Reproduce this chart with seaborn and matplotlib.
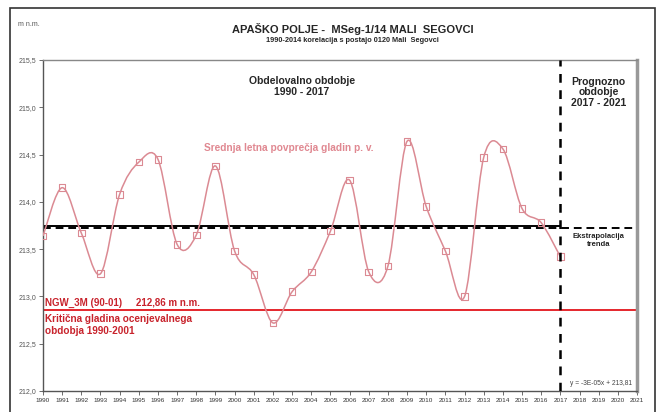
import numpy as np
import pandas as pd
import matplotlib.pyplot as plt
import seaborn as sns
from matplotlib.path import Path
from matplotlib.patches import PathPatch, Rectangle

# data
years = list(range(1990, 2018))
levels = [213.64, 214.15, 213.67, 213.24, 214.08, 214.42, 214.45, 213.55,
          213.65, 214.38, 213.48, 213.23, 212.72, 213.05, 213.26, 213.69,
          214.23, 213.26, 213.32, 214.64, 213.95, 213.48, 213.00, 214.47,
          214.56, 213.93, 213.78, 213.42]
trend_level = 213.745
trend_extrap = 213.728
critical_level = 212.86
split_year = 2017
x_ticks = list(range(1990, 2022))
y_ticks = [212.0, 212.5, 213.0, 213.5, 214.0, 214.5, 215.0, 215.5]

df = pd.DataFrame({"leto": years, "gladina": levels})

sns.set_style("white")
plt.rcParams['font.family'] = ['Liberation Sans', 'DejaVu Sans']

PINK = "#db8a93"
RED = "#e5262c"
DARKRED = "#c8232c"

fig = plt.figure(figsize=(6.59, 4.12), dpi=100)
ax = fig.add_axes([43/659, 1-391/412, (637-43)/659, (391-60)/412])

# smooth (excel-like) curve as bezier path through the points
x = np.array(years, dtype=float)
y = np.array(levels)
verts = [(x[0], y[0])]
codes = [Path.MOVETO]
n = len(x)
for i in range(n-1):
    p0 = np.array([x[max(i-1, 0)], y[max(i-1, 0)]])
    p1 = np.array([x[i], y[i]])
    p2 = np.array([x[i+1], y[i+1]])
    p3 = np.array([x[min(i+2, n-1)], y[min(i+2, n-1)]])
    c1 = p1 + (p2 - p0) / 6
    c2 = p2 - (p3 - p1) / 6
    verts += [tuple(c1), tuple(c2), tuple(p2)]
    codes += [Path.CURVE4]*3
ax.add_patch(PathPatch(Path(verts, codes), facecolor="none", edgecolor=PINK, lw=1.1, zorder=3))

sns.scatterplot(data=df, x="leto", y="gladina", marker="s", s=22, facecolors="none",
                edgecolors=PINK, linewidth=0.8, ax=ax, zorder=4)

# trend lines
ax.plot([1990, split_year], [trend_level, trend_level], color="black", lw=1.4, zorder=2)
ax.plot([1990, 2021], [trend_extrap, trend_extrap], color="black", lw=1.4, ls=(0, (4, 2.5)), zorder=2)

# critical level
ax.axhline(critical_level, color=RED, lw=1.4, zorder=2)

# split line
ax.axvline(split_year, color="black", lw=1.8, ls=(0, (3.5, 3)), zorder=5)

ax.set_xlim(1990, 2021)
ax.set_ylim(212.0, 215.5)
ax.set_xticks(x_ticks)
ax.set_xticklabels([str(t) for t in x_ticks], fontsize=4.6, color="#333333")
ax.set_yticks(y_ticks)
ax.set_yticklabels([f"{t:.1f}".replace(".", ",") for t in y_ticks], fontsize=5, color="#555555")
ax.tick_params(axis="both", length=3, width=0.6, color="#555555", pad=2, direction="out", bottom=True, left=True)
ax.set_xlabel("")
ax.set_ylabel("")

for side in ["left", "bottom"]:
    ax.spines[side].set_color("#555555")
    ax.spines[side].set_linewidth(1.0)
ax.spines["top"].set_color("#888888")
ax.spines["top"].set_linewidth(1.0)
ax.spines["right"].set_color("#999999")
ax.spines["right"].set_linewidth(2.5)

# texts inside
ax.text(2003.5, 215.22, "Obdelovalno obdobje\n1990 - 2017", ha="center", va="center",
        fontsize=7.5, fontweight="bold", linespacing=1.2)
ax.text(2002.8, 214.57, "Srednja letna povprečja gladin p. v.", ha="center", va="center",
        fontsize=7.3, fontweight="bold", color="#e08891")
ax.text(2019.0, 215.16, "Prognozno\nobdobje\n2017 - 2021", ha="center", va="center",
        fontsize=7.5, fontweight="bold", linespacing=1.05)
ax.text(2019.0, 213.59, "Ekstrapolacija\ntrenda", ha="center", va="center",
        fontsize=5.5, fontweight="bold", linespacing=1.15, color="#222222")
ax.text(2019.1, 212.08, "y = -3E-05x + 213,81", ha="center", va="center",
        fontsize=4.8, color="#444444")
ax.text(1990.1, 212.93, "NGW_3M (90-01)     212,86 m n.m.", ha="left", va="center",
        fontsize=7, fontweight="bold", color=DARKRED)
ax.text(1990.1, 212.70, "Kritična gladina ocenjevalnega\nobdobja 1990-2001", ha="left", va="center",
        fontsize=7.2, fontweight="bold", color=DARKRED, linespacing=1.2)

# header
fig.text(353/659, 1-29/412, "APAŠKO POLJE -  MSeg-1/14 MALI  SEGOVCI", ha="center", va="center",
         fontsize=8, fontweight="bold")
fig.text(352/659, 1-40/412, "1990-2014 korelacija s postajo 0120 Mali  Segovci", ha="center", va="center",
         fontsize=5.3, fontweight="bold")
fig.text(29/659, 1-25/412, "m n.m.", ha="center", va="center", fontsize=5, color="#555555")

# outer frame
fig.patches.append(Rectangle((10/659, -0.02), (655-10)/659, 1-8/412+0.02, transform=fig.transFigure,
                             fill=False, edgecolor="#333333", lw=1.2))

fig.savefig("out.png", dpi=100)
